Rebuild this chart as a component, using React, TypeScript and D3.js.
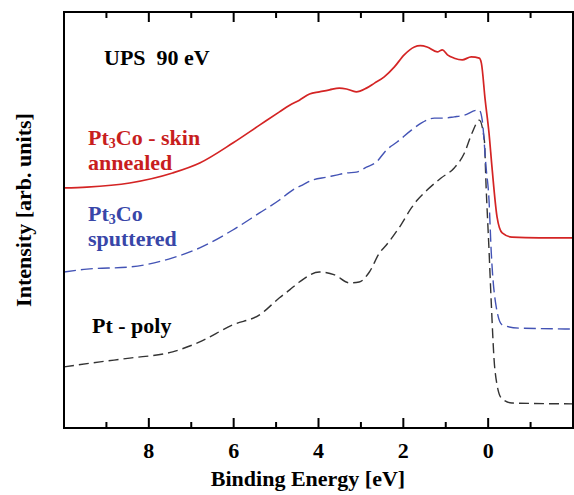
import React from 'react'
import * as d3 from 'd3'

// binding energy [eV], intensity [arb. units]
const skinAnnealed: [number, number][] = [
    [10.0, 57.7], [9.46, 57.9], [8.45, 58.9], [7.44, 61.3], [6.8, 63.7], [6.02, 68.5],
    [5.39, 72.8], [4.92, 76.0], [4.68, 77.6], [4.45, 78.8], [4.21, 80.3], [3.98, 80.8],
    [3.74, 81.3], [3.51, 81.7], [3.34, 81.5], [3.11, 80.8], [2.87, 81.7], [2.68, 82.9],
    [2.45, 84.4], [2.21, 86.8], [1.98, 89.7], [1.74, 91.6], [1.6, 91.9], [1.44, 91.6],
    [1.2, 90.4], [1.08, 90.9], [0.96, 89.7], [0.8, 88.9], [0.61, 88.5], [0.4, 89.2],
    [0.21, 88.9], [0.16, 87.7], [0.07, 78.8], [-0.02, 70.9], [-0.09, 62.7], [-0.21, 50.7],
    [-0.33, 46.9], [-0.56, 45.9], [-1.2, 45.7], [-1.98, 45.7]
]
const sputtered: [number, number][] = [
    [10.0, 37.5], [9.46, 38.2], [8.45, 38.7], [7.44, 40.9], [6.8, 43.3], [6.02, 47.6],
    [5.39, 51.7], [4.92, 54.8], [4.61, 57.2], [4.38, 58.4], [4.14, 59.6], [3.81, 60.3],
    [3.58, 60.8], [3.34, 61.3], [3.11, 61.5], [2.87, 62.7], [2.64, 63.9], [2.4, 66.8],
    [2.14, 68.8], [1.81, 71.6], [1.58, 73.3], [1.27, 74.5], [1.04, 74.5], [0.8, 74.8],
    [0.56, 75.2], [0.26, 76.4], [0.21, 76.4], [0.14, 74.0], [0.05, 62.7], [-0.02, 54.8],
    [-0.07, 42.8], [-0.19, 29.1], [-0.33, 24.8], [-0.73, 24.0], [-1.98, 23.8]
]
const ptPoly: [number, number][] = [
    [10.0, 14.7], [9.15, 15.9], [8.45, 16.8], [7.44, 18.3], [6.8, 20.7], [6.02, 24.8],
    [5.39, 27.2], [4.92, 31.3], [4.68, 33.2], [4.45, 35.1], [3.98, 37.5], [3.62, 36.8],
    [3.27, 34.9], [3.04, 35.1], [2.8, 37.5], [2.56, 42.1], [2.4, 44.0], [2.09, 48.3],
    [1.81, 52.9], [1.67, 54.8], [1.44, 57.2], [1.11, 60.1], [0.8, 62.5], [0.56, 66.1],
    [0.38, 70.9], [0.21, 74.0], [0.09, 69.2], [0.05, 58.4], [-0.02, 42.8], [-0.07, 30.8],
    [-0.16, 13.9], [-0.31, 7.2], [-0.56, 6.0], [-1.98, 5.8]
]
const majorTicks = [8, 6, 4, 2, 0]
const minorTicks = [9, 7, 5, 3, 1, -1]

const font = "'Liberation Serif', 'DejaVu Serif', serif"

const App = () => {
    const left = 64, right = 573, top = 12, bottom = 428
    const x = d3.scaleLinear().domain([10, -2]).range([left, right])
    const y = d3.scaleLinear().domain([0, 100]).range([bottom, top])
    const line = d3.line<[number, number]>()
        .x(d => x(d[0]))
        .y(d => y(d[1]))
        .curve(d3.curveMonotoneX)

    const T = (props: any) => <text fontFamily={font} fontWeight="bold" fontSize={22} {...props} />

    return (
        <svg width={574} height={495} style={{ position: 'absolute', left: 0, top: 0 }}>
            <rect x={0} y={0} width={574} height={495} fill="#fff" />
            <path d={line(ptPoly) || ''} fill="none" stroke="#333" strokeWidth={1.4} strokeDasharray="10,5" />
            <path d={line(sputtered) || ''} fill="none" stroke="#4353b5" strokeWidth={1.4} strokeDasharray="12,5" />
            <path d={line(skinAnnealed) || ''} fill="none" stroke="#d42424" strokeWidth={1.7} />
            <rect x={left} y={top} width={right - left} height={bottom - top} fill="none" stroke="#000" strokeWidth={2} />
            {majorTicks.map(t => (
                <g key={'M' + t}>
                    <line x1={x(t)} x2={x(t)} y1={bottom} y2={bottom - 10} stroke="#000" strokeWidth={2} />
                    <line x1={x(t)} x2={x(t)} y1={top} y2={top + 10} stroke="#000" strokeWidth={2} />
                    <T x={x(t)} y={458} textAnchor="middle">{t}</T>
                </g>
            ))}
            {minorTicks.map(t => (
                <g key={'m' + t}>
                    <line x1={x(t)} x2={x(t)} y1={bottom} y2={bottom - 6} stroke="#000" strokeWidth={2} />
                    <line x1={x(t)} x2={x(t)} y1={top} y2={top + 6} stroke="#000" strokeWidth={2} />
                </g>
            ))}
            <T x={308} y={486} textAnchor="middle">Binding Energy [eV]</T>
            <T transform="translate(31,210) rotate(-90)" textAnchor="middle">Intensity [arb. units]</T>
            <T x={104} y={65} style={{ whiteSpace: 'pre' }}>UPS  90 eV</T>
            <T x={88} y={145} fill="#c81e1e">Pt<tspan fontSize={14} dy={2.5}>3</tspan><tspan dy={-2.5}>Co - skin</tspan></T>
            <T x={88} y={170} fill="#c81e1e">annealed</T>
            <T x={88} y={221} fill="#3846a8">Pt<tspan fontSize={14} dy={2.5}>3</tspan><tspan dy={-2.5}>Co</tspan></T>
            <T x={88} y={246} fill="#3846a8">sputtered</T>
            <T x={92} y={333}>Pt - poly</T>
        </svg>
    )
}

export default App
